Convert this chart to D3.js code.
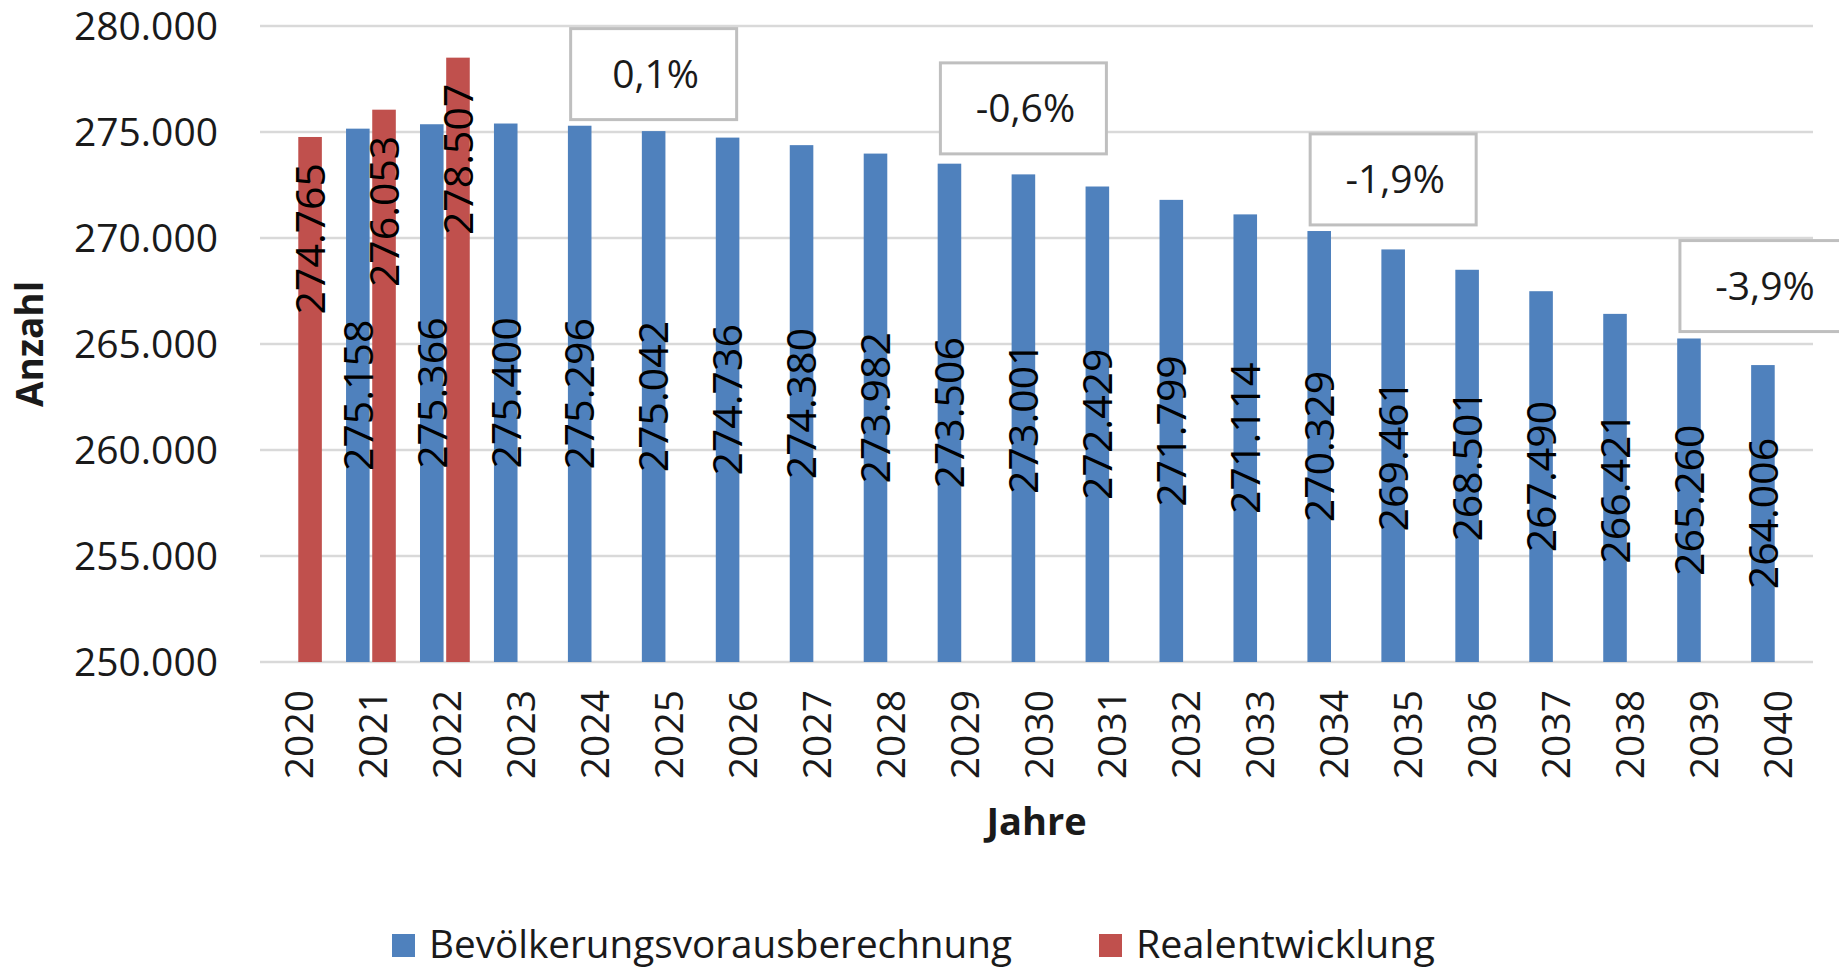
<!DOCTYPE html>
<html>
<head>
<meta charset="utf-8">
<script src="https://cdn.jsdelivr.net/npm/d3@7"></script>
<style>
  html, body { margin: 0; padding: 0; background: #fff; }
  svg { display: block; }
  text { font-family: "Open Sans", "Noto Sans", sans-serif; }
</style>
</head>
<body>
<svg id="chart" width="1839" height="970"></svg>
<script>
// ---- data ----
const years = ["2020","2021","2022","2023","2024","2025","2026","2027","2028","2029","2030",
               "2031","2032","2033","2034","2035","2036","2037","2038","2039","2040"];
const projection = [null, 275158, 275366, 275400, 275296, 275042, 274736, 274380, 273982, 273506, 273001,
                    272429, 271799, 271114, 270329, 269461, 268501, 267490, 266421, 265260, 264006];
const real = [274765, 276053, 278507, null, null, null, null, null, null, null, null,
              null, null, null, null, null, null, null, null, null, null];
const seriesNames = ["Bevölkerungsvorausberechnung", "Realentwicklung"];
const yTicks = [250000, 255000, 260000, 265000, 270000, 275000, 280000];
const annoYears = ["2025", "2030", "2035", "2040"];
const annoTexts = ["0,1%", "-0,6%", "-1,9%", "-3,9%"];
const xTitle = "Jahre";
const yTitle = "Anzahl";

// ---- layout / style ----
const colors = { proj: "#4F81BD", real: "#C0504D" };
const plot = { left: 260, right: 1813, top: 26, bottom: 662 };
const annoLift = [57, 66, 70, 79];   // box centre above bar top (px)
const boxW = 166, boxH = 91;

const locale = d3.formatLocale({ decimal: ",", thousands: ".", grouping: [3], currency: ["", "€"] });
const fmt = locale.format(",d");

const svg = d3.select("#chart");

const x0 = d3.scaleBand().domain(years).range([plot.left, plot.right])
  .paddingInner(0.327).paddingOuter(0.1635);
const x1 = d3.scaleBand().domain(["proj", "real"]).range([0, x0.bandwidth()]).paddingInner(0.1);
const y = d3.scaleLinear().domain([250000, 280000]).range([plot.bottom, plot.top]);

// gridlines
svg.append("g").selectAll("line").data(yTicks).join("line")
  .attr("x1", plot.left).attr("x2", plot.right)
  .attr("y1", d => y(d)).attr("y2", d => y(d))
  .attr("stroke", "#d9d9d9").attr("stroke-width", 2.5);

// y axis labels
const yAxis = d3.axisLeft(y).tickValues(yTicks).tickFormat(fmt).tickSize(0).tickPadding(0);
const gy = svg.append("g").attr("transform", `translate(218,0)`).call(yAxis);
gy.select(".domain").remove();
gy.selectAll("text").attr("font-size", 39).attr("fill", "#1a1a1a")
  .attr("font-family", "'Open Sans', sans-serif").attr("dy", "0.35em");

// bars
const rows = years.map((yr, i) => ({ year: yr, proj: projection[i], real: real[i] }));
const bars = [];
rows.forEach(r => {
  ["proj", "real"].forEach(k => {
    if (r[k] != null) bars.push({ year: r.year, key: k, value: r[k] });
  });
});

svg.append("g").selectAll("rect").data(bars).join("rect")
  .attr("x", d => x0(d.year) + x1(d.key))
  .attr("width", x1.bandwidth())
  .attr("y", d => y(d.value))
  .attr("height", d => y(250000) - y(d.value))
  .attr("fill", d => colors[d.key]);

// data labels
svg.append("g").selectAll("text").data(bars).join("text")
  .attr("transform", d => {
    const cx = x0(d.year) + x1(d.key) + x1.bandwidth() / 2;
    const cy = d.key === "proj" ? (y(d.value) + y(250000)) / 2 : y(d.value) + 26;
    return `translate(${cx},${cy}) rotate(-90)`;
  })
  .attr("text-anchor", d => d.key === "proj" ? "middle" : "end")
  .attr("dy", "0.36em")
  .attr("font-size", 41)
  .attr("fill", "#000")
  .text(d => fmt(d.value));

// x axis labels
svg.append("g").selectAll("text").data(years).join("text")
  .attr("transform", d => `translate(${x0(d) + x0.bandwidth() / 2 + 2},690) rotate(-90)`)
  .attr("text-anchor", "end")
  .attr("dy", "0.36em")
  .attr("font-size", 39)
  .attr("fill", "#1a1a1a")
  .text(d => d);

// axis titles
svg.append("text")
  .attr("x", (plot.left + plot.right) / 2).attr("y", 835)
  .attr("text-anchor", "middle").attr("font-size", 38).attr("font-weight", "bold")
  .attr("fill", "#1a1a1a").text(xTitle);

svg.append("text")
  .attr("transform", `translate(30,${(plot.top + plot.bottom) / 2}) rotate(-90)`)
  .attr("text-anchor", "middle").attr("dy", "0.36em")
  .attr("font-size", 37).attr("font-weight", "bold")
  .attr("fill", "#1a1a1a").text(yTitle);

// annotation boxes
const annos = annoYears.map((yr, i) => {
  const idx = years.indexOf(yr);
  return { year: yr, text: annoTexts[i], value: projection[idx], lift: annoLift[i] };
});
const ga = svg.append("g").selectAll("g").data(annos).join("g")
  .attr("transform", d => {
    const cx = x0(d.year) + x1("proj") + x1.bandwidth() / 2;
    const cy = y(d.value) - d.lift;
    return `translate(${cx},${cy})`;
  });
ga.append("rect")
  .attr("x", -boxW / 2).attr("y", -boxH / 2).attr("width", boxW).attr("height", boxH)
  .attr("fill", "#fff").attr("stroke", "#bfbfbf").attr("stroke-width", 3);
ga.append("text")
  .attr("text-anchor", "middle").attr("dy", "0.36em").attr("x", 2)
  .attr("font-size", 39).attr("fill", "#1a1a1a")
  .text(d => d.text);

// legend
const legend = [
  { name: seriesNames[0], color: colors.proj, x: 392, len: 583 },
  { name: seriesNames[1], color: colors.real, x: 1099, len: 299 }
];
const gl = svg.append("g").selectAll("g").data(legend).join("g")
  .attr("transform", d => `translate(${d.x},934)`);
gl.append("rect").attr("width", 23).attr("height", 23).attr("fill", d => d.color);
gl.append("text").attr("x", 37).attr("y", 24)
  .attr("font-size", 38).attr("fill", "#1a1a1a")
  .attr("textLength", d => d.len).attr("lengthAdjust", "spacingAndGlyphs")
  .text(d => d.name);
</script>
</body>
</html>
